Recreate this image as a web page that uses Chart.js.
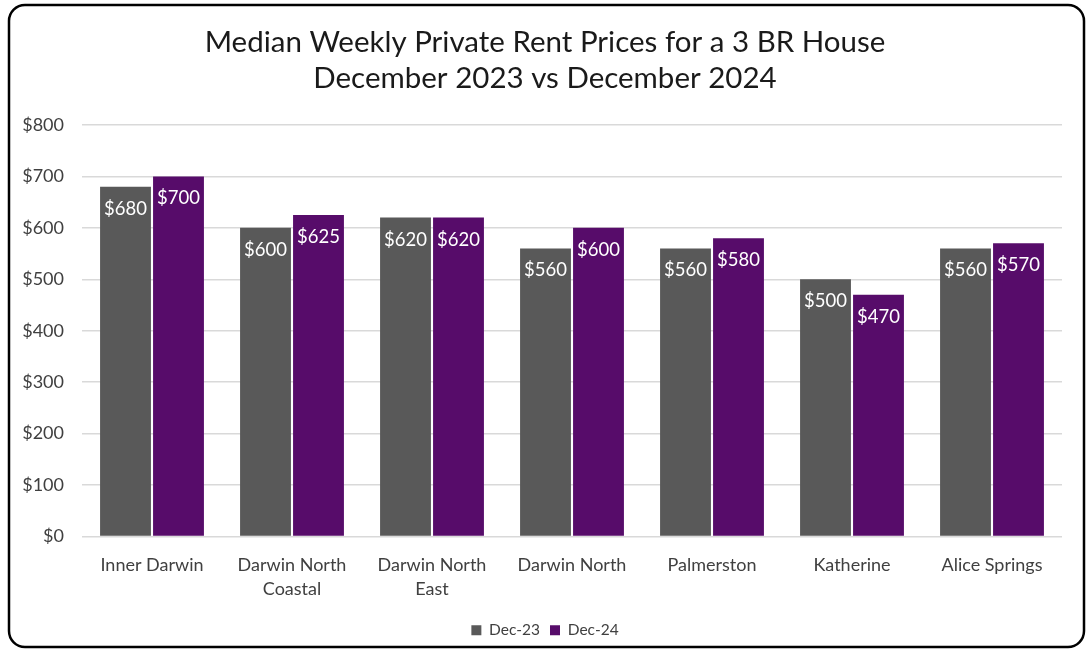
<!DOCTYPE html>
<html>
<head>
<meta charset="utf-8">
<script src="https://cdn.jsdelivr.net/npm/chart.js@4"></script>
<style>
    html, body { margin: 0; padding: 0; background: #ffffff; }
    #wrap { width: 1090px; height: 650px; position: relative; }
</style>
</head>
<body>
<div id="wrap"><canvas id="rentChart"></canvas></div>
<script>
// ---------------- Datos ----------------
const regions = ['Inner Darwin', ['Darwin North', 'Coastal'], ['Darwin North', 'East'], 'Darwin North', 'Palmerston', 'Katherine', 'Alice Springs'];
const dec23 = [680, 600, 620, 560, 560, 500, 560];
const dec24 = [700, 625, 620, 600, 580, 470, 570];
const seriesNames = ['Dec-23', 'Dec-24'];
const titleLines = ['Median Weekly Private Rent Prices for a 3 BR House', 'December 2023 vs December 2024'];

const FONT = 'Lato, "Open Sans", sans-serif';
const GREY = '#595959';
const PURPLE = '#570C6A';

// ---------------- Plugins ----------------

// etiquetas blancas dentro de la parte superior de cada barra
const barLabels = {
    id: 'barLabels',
    afterDatasetsDraw(chart) {
        const ctx = chart.ctx;
        ctx.save();
        ctx.font = '18.5px ' + FONT;
        ctx.fillStyle = '#ffffff';
        ctx.textAlign = 'center';
        ctx.textBaseline = 'middle';
        chart.data.datasets.forEach((ds, i) => {
            chart.getDatasetMeta(i).data.forEach((bar, j) => {
                ctx.fillText('$' + ds.data[j], bar.x, bar.y + 22);
            });
        });
        ctx.restore();
    }
};

// marco redondeado alrededor de todo
const frame = {
    id: 'frame',
    afterDraw(chart) {
        const ctx = chart.ctx;
        ctx.save();
        ctx.strokeStyle = '#000000';
        ctx.lineWidth = 2.5;
        ctx.beginPath();
        ctx.roundRect(9, 5, 1075, 642, 16);
        ctx.stroke();
        ctx.restore();
    }
};

// ---------------- Gráfica ----------------

new Chart(document.getElementById('rentChart'), {
    type: 'bar',
    data: {
        labels: regions,
        datasets: [
            { label: seriesNames[0], data: dec23, backgroundColor: GREY },
            { label: seriesNames[1], data: dec24, backgroundColor: PURPLE }
        ]
    },
    options: {
        responsive: true,
        maintainAspectRatio: false,
        animation: false,
        categoryPercentage: 0.757,
        barPercentage: 0.96,
        layout: { padding: { left: 0, right: 0, top: 0, bottom: 2 } },
        plugins: {
            title: {
                display: true,
                text: titleLines,
                color: '#1a1a1a',
                font: { family: FONT, size: 29.5, weight: 'normal', lineHeight: 1.22 },
                padding: { top: 24, bottom: 29 }
            },
            legend: {
                position: 'bottom',
                labels: {
                    color: '#404040',
                    font: { family: FONT, size: 15.5 },
                    boxWidth: 10,
                    boxHeight: 10,
                    padding: 10
                }
            },
            tooltip: { enabled: false }
        },
        scales: {
            x: {
                grid: { display: false },
                border: { display: false },
                ticks: {
                    color: '#404040',
                    font: { family: FONT, size: 18, lineHeight: 1.33 },
                    padding: 9,
                    maxRotation: 0
                },
                afterFit(scale) { scale.height = 76; }
            },
            y: {
                min: 0,
                max: 800,
                ticks: {
                    stepSize: 100,
                    color: '#404040',
                    font: { family: FONT, size: 18 },
                    padding: 18,
                    callback: v => '$' + v
                },
                grid: { color: '#D9D9D9', lineWidth: 1.5, drawTicks: false },
                border: { display: false },
                afterFit(scale) { scale.width = 82; }
            },
            // eje vacío para dejar margen derecho sin descentrar título y leyenda
            yRight: {
                position: 'right',
                display: true,
                grid: { display: false },
                border: { display: false },
                ticks: { display: false },
                afterFit(scale) { scale.width = 28; }
            }
        }
    },
    plugins: [barLabels, frame]
});
</script>
</body>
</html>
